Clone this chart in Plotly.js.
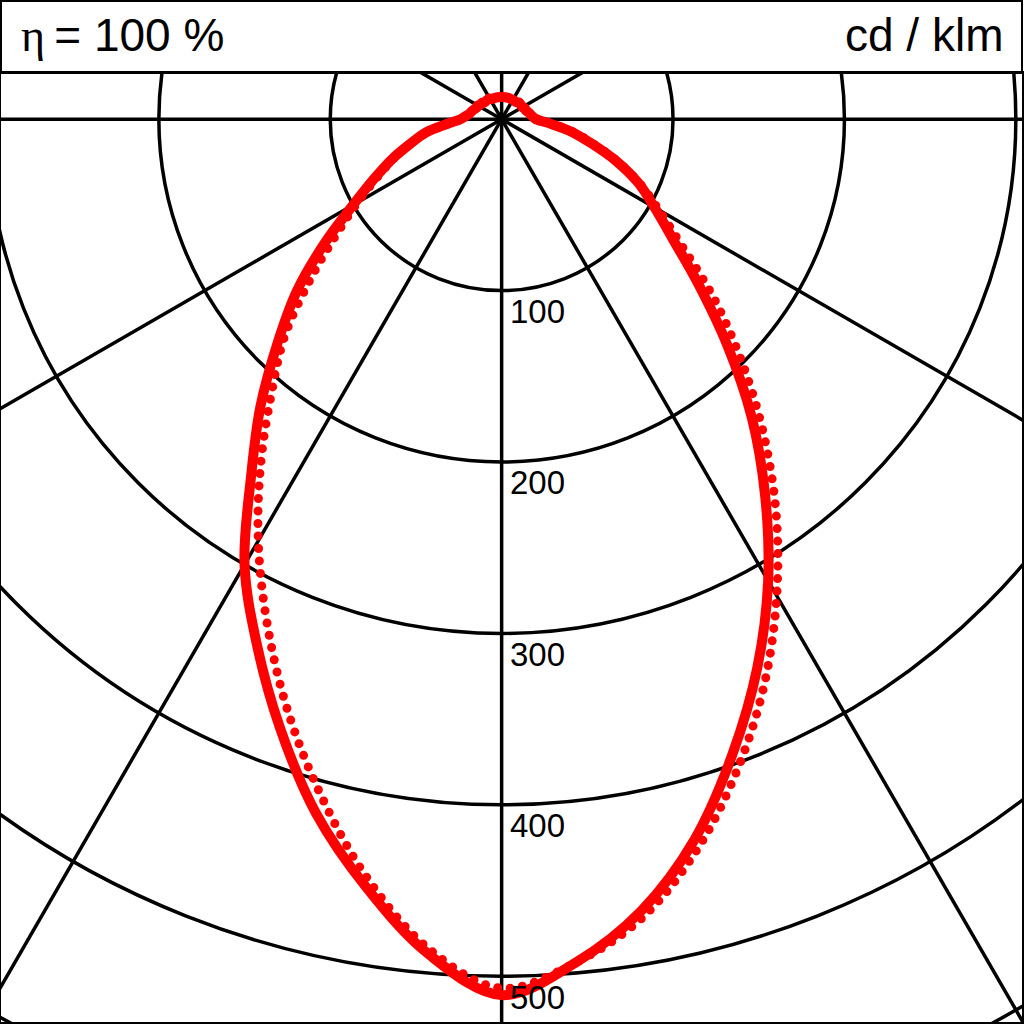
<!DOCTYPE html>
<html>
<head>
<meta charset="utf-8">
<script src="https://cdn.plot.ly/plotly-3.0.1.min.js"></script>
<style>
  html, body { margin: 0; padding: 0; background: #fff; overflow: hidden; }
  #plot_ldc { width: 1024px; height: 1024px; }
  .js-line { stroke-linecap: round; }
</style>
</head>
<body>
<div id="plot_ldc"></div>
<script>
// gamma angle from nadir, degrees
var gamma = [0, 5, 10, 15, 20, 25, 30, 35, 40, 45, 50, 55, 60, 65, 70, 75, 80, 85, 90,
             95, 100, 105, 110, 115, 120, 125, 130, 135, 140, 145, 150, 155, 160, 165, 170, 175, 180];

// intensity cd/klm, C0-C180 plane (solid)
var c0   = [511, 494, 469, 435, 394, 353, 311, 268, 227, 186, 150, 122, 103, 88, 71, 54, 41, 28, 20,
            18, 17, 16, 15, 15, 14, 14, 14, 14, 13, 13, 13, 13, 13, 13, 13, 13, 13];
var c180 = [511, 489, 455, 419, 378, 338, 300, 255, 219, 185, 156, 126, 100, 82, 68, 55, 45, 32, 24,
            21, 19, 18, 17, 16, 16, 15, 15, 14, 14, 14, 14, 13, 13, 13, 13, 13, 13];

// C90-C270 plane (dotted)
var c90  = [510, 494, 473, 441, 403, 363, 321, 279, 237, 197, 161, 128, 106, 89, 72, 55, 42, 29, 21,
            18, 17, 16, 15, 15, 14, 14, 14, 14, 13, 13, 13, 13, 13, 13, 13, 13, 13];
var c270 = [507, 486, 450, 408, 366, 324, 284, 245, 209, 179, 146, 118, 97, 80, 67, 55, 44, 33, 24,
            21, 19, 18, 17, 16, 16, 15, 15, 14, 14, 14, 14, 13, 13, 13, 13, 13, 13];

var ringValues = [100, 200, 300, 400, 500, 600];
var ringLabels = ['100', '200', '300', '400', '500'];
var spokeAngles = [0, 30, 60, 90, 120, 150, 180, 210, 240, 270, 300, 330];

var headerLeft = '<span style="font-family:\'Liberation Serif\', serif">η</span>\u2009= 100 %';
var headerRight = 'cd / klm';

// left half plane goes from top (180) down to nadir, then right half back up
function planeXY(left, right) {
  var xs = [], ys = [];
  for (var i = gamma.length - 1; i >= 0; i--) {
    var a = gamma[i] * Math.PI / 180;
    xs.push(-left[i] * Math.sin(a));
    ys.push(-left[i] * Math.cos(a));
  }
  for (var j = 1; j < gamma.length; j++) {
    var b = gamma[j] * Math.PI / 180;
    xs.push(right[j] * Math.sin(b));
    ys.push(-right[j] * Math.cos(b));
  }
  return {x: xs, y: ys};
}

var solid = planeXY(c180, c0);
var dotted = planeXY(c270, c90);

var trace1 = {
  x: solid.x, y: solid.y,
  name: 'C0 - C180',
  mode: 'lines',
  line: {color: '#ff0000', width: 10, shape: 'spline', smoothing: 1},
  hoverinfo: 'skip'
};
var trace2 = {
  x: dotted.x, y: dotted.y,
  name: 'C90 - C270',
  mode: 'lines',
  line: {color: '#ff0000', width: 9, shape: 'spline', smoothing: 1, dash: '0px,12.5px'},
  hoverinfo: 'skip'
};

var shapes = [];
for (var k = 0; k < ringValues.length; k++) {
  var rv = ringValues[k];
  shapes.push({type: 'circle', xref: 'x', yref: 'y', x0: -rv, x1: rv, y0: -rv, y1: rv,
               layer: 'below', line: {color: 'black', width: 3.5}});
}
for (var s = 0; s < spokeAngles.length; s++) {
  var t = spokeAngles[s] * Math.PI / 180;
  shapes.push({type: 'line', xref: 'x', yref: 'y', x0: 0, y0: 0,
               x1: 800 * Math.sin(t), y1: -800 * Math.cos(t),
               layer: 'below', line: {color: 'black', width: 3.5}});
}
// header box
shapes.push({type: 'rect', xref: 'paper', yref: 'paper', x0: 0, x1: 1, y0: 1, y1: 1.0759,
             line: {color: 'black', width: 2}});

var annotations = [];
for (var n = 0; n < ringLabels.length; n++) {
  annotations.push({
    xref: 'x', yref: 'y', x: 3.5, y: -ringValues[n] - 12.2,
    xanchor: 'left', yanchor: 'middle', showarrow: false,
    text: ringLabels[n],
    font: {family: 'Arial, "Liberation Sans", sans-serif', size: 33, color: 'black'}
  });
}
annotations.push({
  xref: 'paper', yref: 'paper', x: 0.018, y: 1.040, xanchor: 'left', yanchor: 'middle',
  showarrow: false, text: headerLeft,
  font: {family: 'Arial, "Liberation Sans", sans-serif', size: 46, color: 'black'}
});
annotations.push({
  xref: 'paper', yref: 'paper', x: 0.983, y: 1.040, xanchor: 'right', yanchor: 'middle',
  showarrow: false, text: headerRight,
  font: {family: 'Arial, "Liberation Sans", sans-serif', size: 46, color: 'black'}
});

var axisBase = {
  showgrid: false, zeroline: false, showticklabels: false, ticks: '',
  showline: true, mirror: true, linecolor: 'black', linewidth: 2, fixedrange: true
};

var layout = {
  width: 1024,
  height: 1024,
  showlegend: false,
  paper_bgcolor: 'white',
  plot_bgcolor: 'white',
  margin: {l: 1, r: 2, t: 73, b: 2, pad: 0},
  xaxis: Object.assign({range: [-292.1, 303.6]}, axisBase),
  yaxis: Object.assign({range: [-526.7, 26.95]}, axisBase),
  shapes: shapes,
  annotations: annotations
};

Plotly.newPlot('plot_ldc', [trace1, trace2], layout, {displayModeBar: false, staticPlot: true});
</script>
</body>
</html>
